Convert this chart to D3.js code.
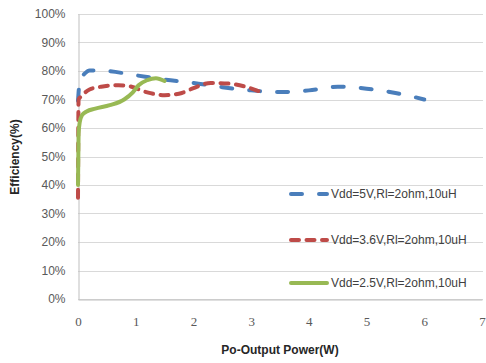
<!DOCTYPE html>
<html>
<head>
<meta charset="utf-8">
<script src="https://cdn.jsdelivr.net/npm/d3@7"></script>
<style>
  html, body { margin: 0; padding: 0; background: #fff; }
  svg { display: block; }
</style>
</head>
<body>
<svg id="chart" width="486" height="363"></svg>
<script>
// Efficiency vs output power for three supply voltages
const xTicks = [0, 1, 2, 3, 4, 5, 6, 7];
const yTicks = [0, 10, 20, 30, 40, 50, 60, 70, 80, 90, 100];

const power5V = [0, 0.01, 0.05, 0.1, 0.2, 0.5, 1.0, 1.5, 2.0, 2.5, 3.0, 3.5, 4.0, 4.5, 5.0, 5.5, 6.0];
const eff5V   = [69.5, 72.5, 77.8, 78.8, 80.2, 80.0, 78.5, 77.0, 75.8, 74.3, 73.2, 72.6, 73.2, 74.5, 73.8, 72.3, 70.0];

const power36V = [0, 0.005, 0.01, 0.05, 0.2, 0.4, 0.7, 0.9, 1.2, 1.5, 1.8, 2.0, 2.3, 2.6, 2.9, 3.2];
const eff36V   = [35.5, 60.0, 70.0, 71.0, 73.5, 74.5, 75.0, 74.6, 72.5, 71.5, 72.3, 74.0, 75.8, 75.6, 74.5, 72.4];

const power25V = [0, 0.01, 0.03, 0.07, 0.15, 0.3, 0.55, 0.8, 0.95, 1.05, 1.2, 1.35, 1.5];
const eff25V   = [40.0, 58.0, 62.0, 64.5, 65.8, 66.8, 68.0, 70.0, 72.5, 75.0, 76.8, 77.5, 76.5];

const seriesNames = ["Vdd=5V,Rl=2ohm,10uH", "Vdd=3.6V,Rl=2ohm,10uH", "Vdd=2.5V,Rl=2ohm,10uH"];

const series = [
  { name: seriesNames[0], x: power5V,  y: eff5V,  color: "#4A7EBB", dash: "11,17" },
  { name: seriesNames[1], x: power36V, y: eff36V, color: "#BE4B48", dash: "8,7.5" },
  { name: seriesNames[2], x: power25V, y: eff25V, color: "#98B954", dash: null }
];

const svg = d3.select("#chart");
const plot = { left: 78, right: 482, top: 14, bottom: 299 };

const x = d3.scaleLinear().domain([0, 7]).range([plot.left, plot.right]);
const y = d3.scaleLinear().domain([0, 100]).range([plot.bottom, plot.top]);

// horizontal gridlines
svg.append("g")
  .selectAll("line")
  .data(yTicks)
  .join("line")
  .attr("x1", plot.left).attr("x2", plot.right + 1)
  .attr("y1", d => Math.round(y(d)) + 0.5).attr("y2", d => Math.round(y(d)) + 0.5)
  .attr("stroke", "#d9d9d9").attr("stroke-width", 1);

// y axis
const yAxis = svg.append("g")
  .attr("transform", `translate(${plot.left + 0.5},0)`)
  .call(d3.axisLeft(y).tickValues(yTicks).tickFormat(d => d + "%").tickSize(0).tickPadding(13));
yAxis.select(".domain").attr("stroke", "#bfbfbf");
yAxis.selectAll("text")
  .attr("font-family", "Liberation Sans, Arial, sans-serif")
  .attr("font-size", 12).attr("fill", "#595959");

// x axis
const xAxis = svg.append("g")
  .attr("transform", `translate(0,${Math.round(plot.bottom) + 0.5})`)
  .call(d3.axisBottom(x).tickValues(xTicks).tickFormat(d3.format("d")).tickSize(0).tickPadding(17));
xAxis.select(".domain").attr("stroke", "#bfbfbf");
xAxis.selectAll("text")
  .attr("font-family", "Liberation Serif, serif")
  .attr("font-size", 13).attr("fill", "#595959");

// axis titles
svg.append("text")
  .attr("x", 280).attr("y", 354)
  .attr("text-anchor", "middle")
  .attr("font-family", "Liberation Sans, Arial, sans-serif")
  .attr("font-size", 12).attr("font-weight", "bold").attr("fill", "#262626")
  .text("Po-Output Power(W)");

svg.append("text")
  .attr("transform", "translate(19,157) rotate(-90)")
  .attr("text-anchor", "middle")
  .attr("font-family", "Liberation Sans, Arial, sans-serif")
  .attr("font-size", 12).attr("font-weight", "bold").attr("fill", "#262626")
  .text("Efficiency(%)");

// curves
const line = d3.line()
  .x(d => x(d[0]))
  .y(d => y(d[1]))
  .curve(d3.curveMonotoneX);

series.forEach(s => {
  const pts = s.x.map((v, i) => [v, s.y[i]]);
  svg.append("path")
    .datum(pts)
    .attr("d", line)
    .attr("fill", "none")
    .attr("stroke", s.color)
    .attr("stroke-width", 4)
    .attr("stroke-linecap", "round")
    .attr("stroke-linejoin", "round")
    .attr("stroke-dasharray", s.dash);
});

// legend
const legendY = [194, 240, 283];
const legend = svg.append("g");
series.forEach((s, i) => {
  const g = legend.append("g").attr("transform", `translate(0,${legendY[i]})`);
  g.append("line")
    .attr("x1", 291).attr("x2", 327)
    .attr("y1", 0).attr("y2", 0)
    .attr("stroke", s.color)
    .attr("stroke-width", 4)
    .attr("stroke-linecap", "round")
    .attr("stroke-dasharray", s.dash);
  g.append("text")
    .attr("x", 331).attr("y", 0).attr("dy", "0.35em")
    .attr("font-family", "Liberation Sans, Arial, sans-serif")
    .attr("font-size", 12).attr("fill", "#404040")
    .text(s.name);
});
</script>
</body>
</html>
